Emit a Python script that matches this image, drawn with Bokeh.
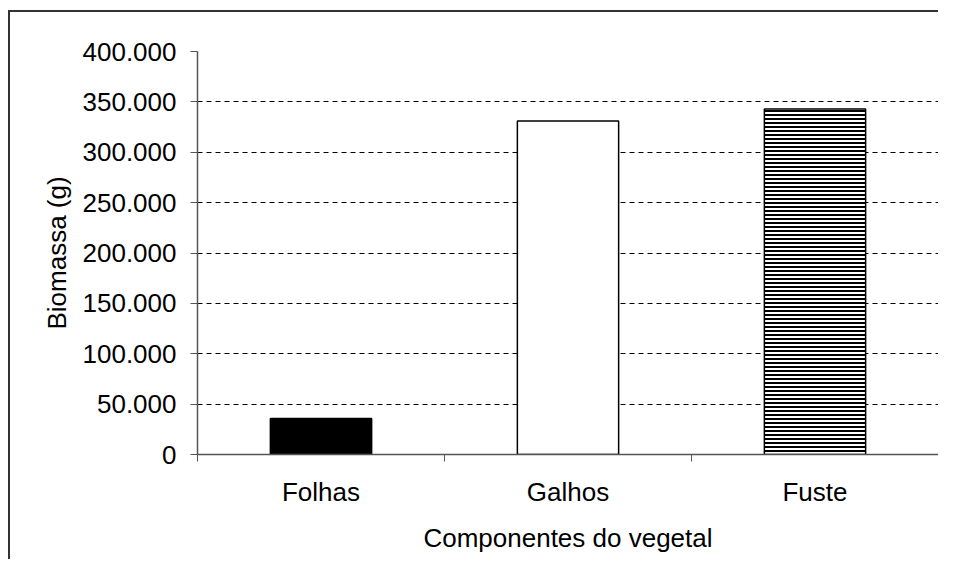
from bokeh.plotting import figure
from bokeh.models import FixedTicker, ColumnDataSource
from bokeh.embed import file_html
from bokeh.resources import INLINE

categories = ["Folhas", "Galhos", "Fuste"]
biomass = [35700, 331000, 343000]
fill_colors = ["black", "white", "white"]
hatches = ["blank", "blank", "horizontal_line"]
y_ticks = [0, 50000, 100000, 150000, 200000, 250000, 300000, 350000, 400000]

n = len(categories)
xs = [i + 0.5 for i in range(n)]
src = ColumnDataSource(dict(x=xs, top=biomass, fill=fill_colors, hatch=hatches))

p = figure(width=930, height=549, x_range=(0, n), y_range=(0, y_ticks[-1]),
           output_backend="svg", toolbar_location=None,
           min_border_left=187, min_border_top=39, min_border_right=2, min_border_bottom=107)
p.styles = {"border-top": "2px solid #333", "border-left": "2px solid #333",
            "margin-top": "10px", "margin-left": "8px"}

p.vbar(x="x", top="top", width=0.41, source=src, fill_color="fill",
       line_color="black", line_width=1.5, hatch_pattern="hatch",
       hatch_color="black", hatch_scale=4, hatch_weight=2)

p.outline_line_color = None
p.xgrid.grid_line_color = None
p.ygrid.grid_line_color = "black"
p.ygrid.grid_line_dash = "5 4"
p.ygrid.grid_line_width = 1

font = "Liberation Sans"

xa = p.xaxis[0]
xa.ticker = FixedTicker(ticks=xs, minor_ticks=list(range(n + 1)))
xa.major_label_overrides = {x: c for x, c in zip(xs, categories)}
xa.major_tick_line_color = None
xa.minor_tick_line_color = "#555"
xa.minor_tick_out = 7
xa.minor_tick_in = 0
xa.axis_line_color = "#555"
xa.axis_line_width = 1.5
xa.major_label_standoff = 15
xa.axis_label = "Componentes do vegetal"
xa.axis_label_standoff = 13

ya = p.yaxis[0]
ya.ticker = FixedTicker(ticks=y_ticks, minor_ticks=[])
ya.major_label_overrides = {v: f"{v:,}".replace(",", ".") for v in y_ticks}
ya.major_tick_out = 7
ya.major_tick_in = 0
ya.major_tick_line_color = "#555"
ya.axis_line_color = "#555"
ya.axis_line_width = 1.5
ya.minor_tick_line_color = None
ya.major_label_standoff = 14
ya.axis_label = "Biomassa (g)"
ya.axis_label_standoff = 8

for ax in (xa, ya):
    ax.major_label_text_font = font
    ax.major_label_text_font_size = "26px"
    ax.major_label_text_color = "black"
    ax.axis_label_text_font = font
    ax.axis_label_text_font_size = "26px"
    ax.axis_label_text_font_style = "normal"
    ax.axis_label_text_color = "black"

open("out.html", "w").write(file_html(p, INLINE))
